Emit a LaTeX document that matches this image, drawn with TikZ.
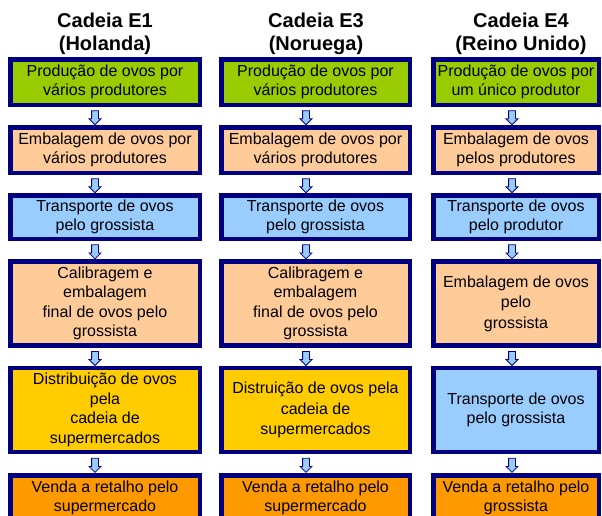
\documentclass[tikz,border=0pt]{standalone}
\usepackage{fontspec}
\setmainfont{Liberation Sans}
\usepackage{tikz}
\usepackage{xcolor}
\usetikzlibrary{positioning,calc}
\usetikzlibrary{shapes.arrows}

\definecolor{navy}{HTML}{000080}
\definecolor{verde}{HTML}{99CC00}
\definecolor{pessego}{HTML}{FFCC99}
\definecolor{azul}{HTML}{99CCFF}
\definecolor{ouro}{HTML}{FFCC00}
\definecolor{laranja}{HTML}{FF9900}

\begin{document}
\begin{tikzpicture}
  [x=1pt,y=-1pt,
   every node/.style={inner sep=0pt,align=center},
   titulo/.style={font=\bfseries\fontsize{20}{23}\selectfont},
   etapa/.style={draw=navy,line width=4.5pt,font=\fontsize{16}{19.5}\selectfont},
   hol/.style={etapa,minimum width=189.5pt},
   nor/.style={etapa,minimum width=188.5pt},
   reu/.style={etapa,minimum width=165.5pt},
   baixa/.style={minimum height=45.5pt},
   alta/.style={minimum height=84pt},
   seta/.style={single arrow,shape border rotate=270,draw=navy,line width=0.8pt,
     fill=azul,inner sep=3pt,minimum height=14pt,single arrow head extend=2.5pt,
     single arrow head indent=0pt}]
  \clip (0,0) rectangle (602,515);

  \node[titulo] (th) at (105,34) {Cadeia E1\\(Holanda)};
  \node[titulo] (tn) at (316,34) {Cadeia E3\\(Noruega)};
  \node[titulo] (tr) at (521,34) {Cadeia E4\\(Reino Unido)};

  % Holanda
  \node[hol,baixa,fill=verde] (h1) at (105,82) {Produção de ovos por\\vários produtores};
  \node[hol,baixa,fill=pessego] (h2) at (105,150) {Embalagem de ovos por\\vários produtores};
  \node[hol,minimum height=43.5pt,fill=azul] (h3) at (105,217) {Transporte de ovos\\pelo grossista};
  \node[hol,alta,fill=pessego] (h4) at (105,303.5) {Calibragem e\\embalagem\\final de ovos pelo\\grossista};
  \node[hol,alta,fill=ouro] (h5) at (105,410) {Distribuição de ovos\\pela\\cadeia de\\supermercados};
  \node[hol,baixa,fill=laranja] (h6) at (105,498) {Venda a retalho pelo\\supermercado};

  % Noruega
  \node[nor,baixa,fill=verde] (n1) at (315.5,82) {Produção de ovos por\\vários produtores};
  \node[nor,baixa,fill=pessego] (n2) at (315.5,150) {Embalagem de ovos por\\vários produtores};
  \node[nor,minimum height=43.5pt,fill=azul] (n3) at (315.5,217) {Transporte de ovos\\pelo grossista};
  \node[nor,alta,fill=pessego] (n4) at (315.5,303.5) {Calibragem e\\embalagem\\final de ovos pelo\\grossista};
  \node[nor,alta,fill=ouro,font=\fontsize{16}{20.5}\selectfont] (n5) at (315.5,410) {Distruição de ovos pela\\cadeia de\\supermercados};
  \node[nor,baixa,fill=laranja] (n6) at (315.5,498) {Venda a retalho pelo\\supermercado};

  % Reino Unido
  \node[reu,baixa,fill=verde] (r1) at (516,82) {Produção de ovos por\\um único produtor};
  \node[reu,baixa,fill=pessego] (r2) at (516,150) {Embalagem de ovos\\pelos produtores};
  \node[reu,minimum height=43.5pt,fill=azul] (r3) at (516,217) {Transporte de ovos\\pelo produtor};
  \node[reu,alta,fill=pessego,font=\fontsize{16}{20.5}\selectfont] (r4) at (516,303.5) {Embalagem de ovos\\pelo\\grossista};
  \node[reu,alta,fill=azul] (r5) at (516,410) {Transporte de ovos\\pelo grossista};
  \node[reu,baixa,fill=laranja] (r6) at (516,498) {Venda a retalho pelo\\grossista};

  \foreach \c/\dx in {h/-10,n/-9.5,r/-4}
    \foreach \from/\to in {1/2,2/3,3/4,4/5,5/6}
      \node[seta] (s\c\from) at ($(\c\from.south)!.5!(\c\to.north)+(\dx,0)$) {};

\end{tikzpicture}
\end{document}
